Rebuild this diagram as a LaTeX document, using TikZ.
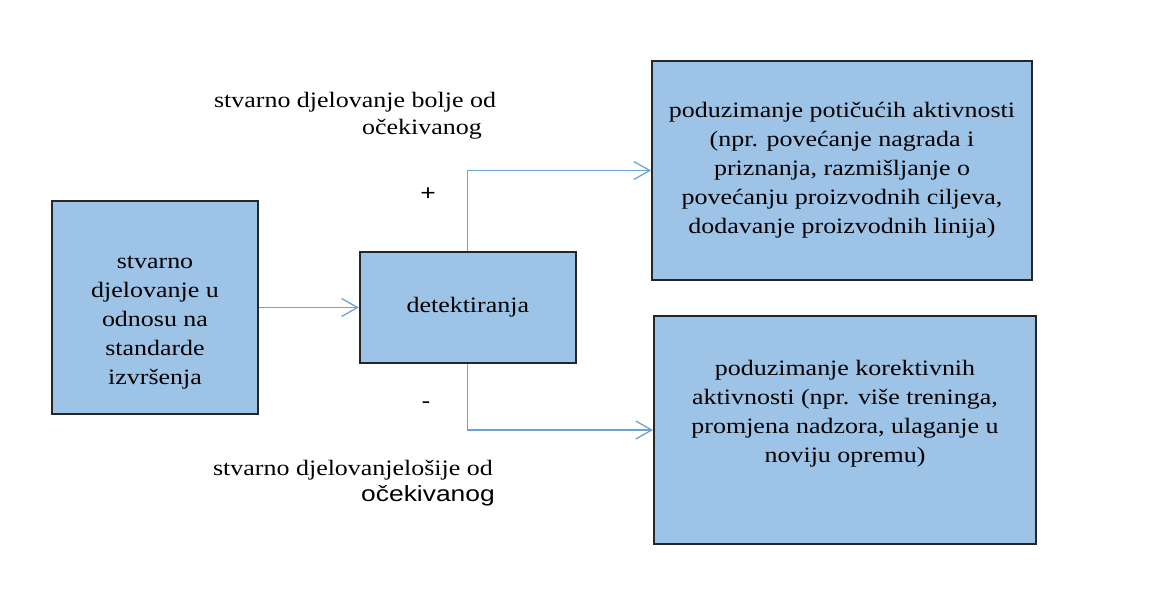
\documentclass[tikz,border=0pt]{standalone}
\usepackage{fontspec}
\setmainfont{Liberation Serif}[FakeStretch=1.18]
\newfontfamily\arialfont{Liberation Sans}[FakeStretch=1.2]
\usetikzlibrary{positioning, arrows.meta}
\definecolor{boxblue}{HTML}{9DC3E6}
\definecolor{lineblue}{HTML}{6FA3D8}

\begin{document}
\begin{tikzpicture}[x=1pt, y=-1pt]
    % Default looks of boxes, arrows and labels
    \tikzstyle{box}=[draw=black!85, fill=boxblue, line width=1.8pt, inner sep=0pt,
        align=center, font=\fontsize{22}{29}\selectfont];
    \tikzstyle{flow}=[draw=lineblue, line width=1.3pt, -{Straight Barb[length=16pt, width=18pt]}];
    \tikzstyle{note}=[anchor=base, font=\fontsize{22}{29}\selectfont, inner sep=0pt];
    \useasboundingbox (0,0) rectangle (1153,594);

    % The four boxes
    \node [box, minimum width=206pt, minimum height=213pt] (actual) at (155,307.5)
        {\rule{0pt}{42pt}stvarno\\djelovanje u\\odnosu na\\standarde\\izvršenja};
    \node [box, minimum width=216pt, minimum height=111pt] (detect) [right=100pt of actual]
        {detektiranja};
    \node [box, minimum width=380pt, minimum height=219pt] (incent) at (842,170.5)
        {poduzimanje potičućih aktivnosti\\(npr. povećanje nagrada i\\priznanja, razmišljanje o\\povećanju proizvodnih ciljeva,\\dodavanje proizvodnih linija)};
    \node [box, minimum width=382pt, minimum height=228pt] (correct) at (845,430)
        {poduzimanje korektivnih\\aktivnosti (npr. više treninga,\\promjena nadzora, ulaganje u\\noviju opremu)\\[8pt]};

    % Labels beside the branches
    \node [note] (better1) at (355,107) {stvarno djelovanje bolje od};
    \node [note] (better2) at (422,134) {očekivanog};
    \node [note] (worse1) at (353,475) {stvarno djelovanjelošije od};
    \node [note, font=\fontsize{22}{29}\arialfont] (worse2) at (428,501) {očekivanog};
    \node [font=\fontsize{22}{24}\arialfont] (plus) at (428,194) {+};
    \node [font=\fontsize{22}{24}\arialfont] (minus) at (426,405) {-};

    % Draw the arrows
    \draw [flow] (actual) -- (detect);
    \draw [flow] (detect.north) |- (incent.west);
    \draw [flow] (detect.south) |- (correct.west);
\end{tikzpicture}
\end{document}
